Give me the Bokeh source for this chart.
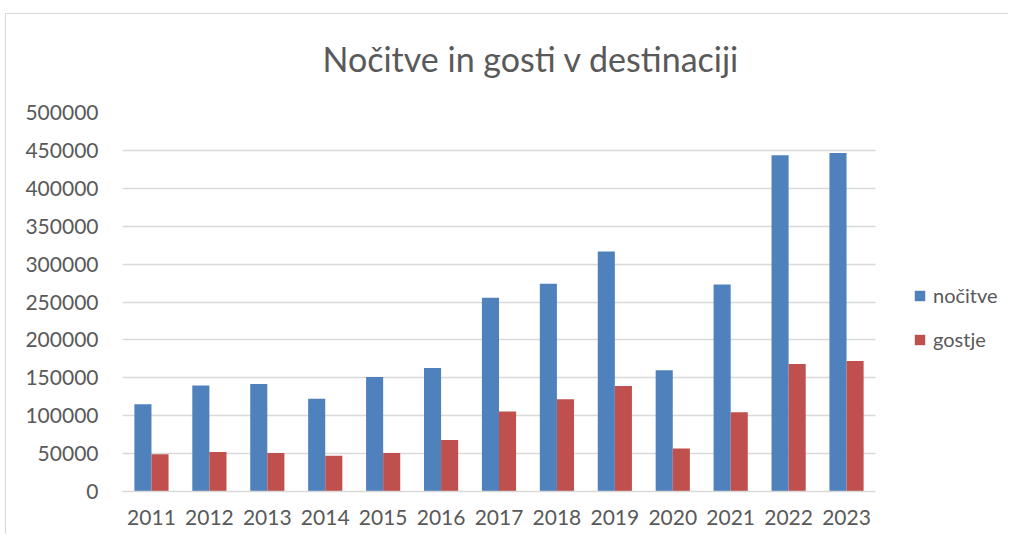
from bokeh.plotting import figure
from bokeh.models import (Range1d, SingleIntervalTicker, FixedTicker, Legend, LegendItem,
                          NumeralTickFormatter, ColumnDataSource, BoxAnnotation)
from bokeh.transform import dodge
from bokeh.embed import file_html
from bokeh.resources import INLINE

years = [str(y) for y in range(2011, 2024)]
nocitve = [115000, 139700, 141900, 122500, 151100, 163000, 255500,
           274000, 316700, 159900, 273100, 443600, 446700]
gostje = [49300, 52000, 50700, 47100, 50700, 67800, 105700,
          121600, 139200, 56800, 104400, 168300, 172200]
series_names = ["nočitve", "gostje"]
title_text = "Nočitve in gosti v destinaciji"

BLUE = "#4F81BD"
RED = "#C0504D"
TXT = "#595959"
GRID = "#d9d9d9"
FONT = "Lato"

n = len(years)
xs = list(range(n))
src = ColumnDataSource(dict(x=xs, years=years, nocitve=nocitve, gostje=gostje))

W, H = 1008, 534
LEFT, RIGHT_B = 122, 0
frame_w = W - LEFT - RIGHT_B
cat_px = 753 / n                       # width of one year slot in pixels
x_end = -0.5 + frame_w / cat_px        # extra room to the right for the legend

p = figure(x_range=Range1d(-0.5, x_end), y_range=Range1d(0, 500000),
           width=W, height=H, output_backend="svg", toolbar_location=None,
           min_border_left=LEFT, min_border_right=RIGHT_B,
           min_border_top=112, min_border_bottom=H - 491)
# transparent canvas so that a thin left/top chart-area border drawn in CSS shows
p.border_fill_color = None
p.styles = {
    "background": ("linear-gradient(#d9d9d9, #d9d9d9) 5px 13px / 1px 100% no-repeat, "
                   "linear-gradient(#d9d9d9, #d9d9d9) 5px 13px / 100% 1px no-repeat, "
                   "#ffffff"),
}

# hide grid lines to the right of the category area
p.add_layout(BoxAnnotation(left=n - 0.5, fill_color="white", fill_alpha=1,
                           line_color=None, level="underlay"))

bw = 0.295
r1 = p.vbar(x=dodge("x", -bw / 2), top="nocitve", width=bw,
            source=src, fill_color=BLUE, line_color=None)
r2 = p.vbar(x=dodge("x", bw / 2), top="gostje", width=bw,
            source=src, fill_color=RED, line_color=None)

p.title.text = title_text
p.title.align = "left"
p.title.text_font = FONT
p.title.text_font_size = "34px"
p.title.text_font_style = "normal"
p.title.text_color = TXT
p.title.standoff = 67
p.title.offset = 200

p.yaxis.ticker = SingleIntervalTicker(interval=50000)
p.yaxis.formatter = NumeralTickFormatter(format="0")
p.yaxis.axis_line_color = None
p.yaxis.major_tick_line_color = None
p.yaxis.minor_tick_line_color = None
p.yaxis.major_label_standoff = 18
p.xaxis.ticker = FixedTicker(ticks=xs)
p.xaxis.major_label_overrides = {i: y for i, y in zip(xs, years)}
p.xaxis.bounds = (-0.5, n - 0.5)
p.xaxis.axis_line_color = GRID
p.xaxis.axis_line_width = 1.5
p.xaxis.major_tick_line_color = None
p.xaxis.minor_tick_line_color = None
p.xaxis.major_label_standoff = 12
for ax in (p.xaxis, p.yaxis):
    ax.major_label_text_font = FONT
    ax.major_label_text_font_size = "21px"
    ax.major_label_text_color = TXT

p.xgrid.grid_line_color = None
p.ygrid.grid_line_color = GRID
p.ygrid.grid_line_width = 1.5
p.outline_line_color = None

legend = Legend(items=[LegendItem(label=series_names[0], renderers=[r1]),
                       LegendItem(label=series_names[1], renderers=[r2])],
                location=(791, 140), orientation="vertical",
                glyph_width=13, glyph_height=13, label_height=20,
                spacing=20, padding=0, margin=0, label_standoff=7,
                label_text_font=FONT, label_text_font_size="20px",
                label_text_color=TXT, border_line_color=None,
                background_fill_alpha=0)
p.add_layout(legend, "center")

open("out.html", "w").write(file_html(p, INLINE))
